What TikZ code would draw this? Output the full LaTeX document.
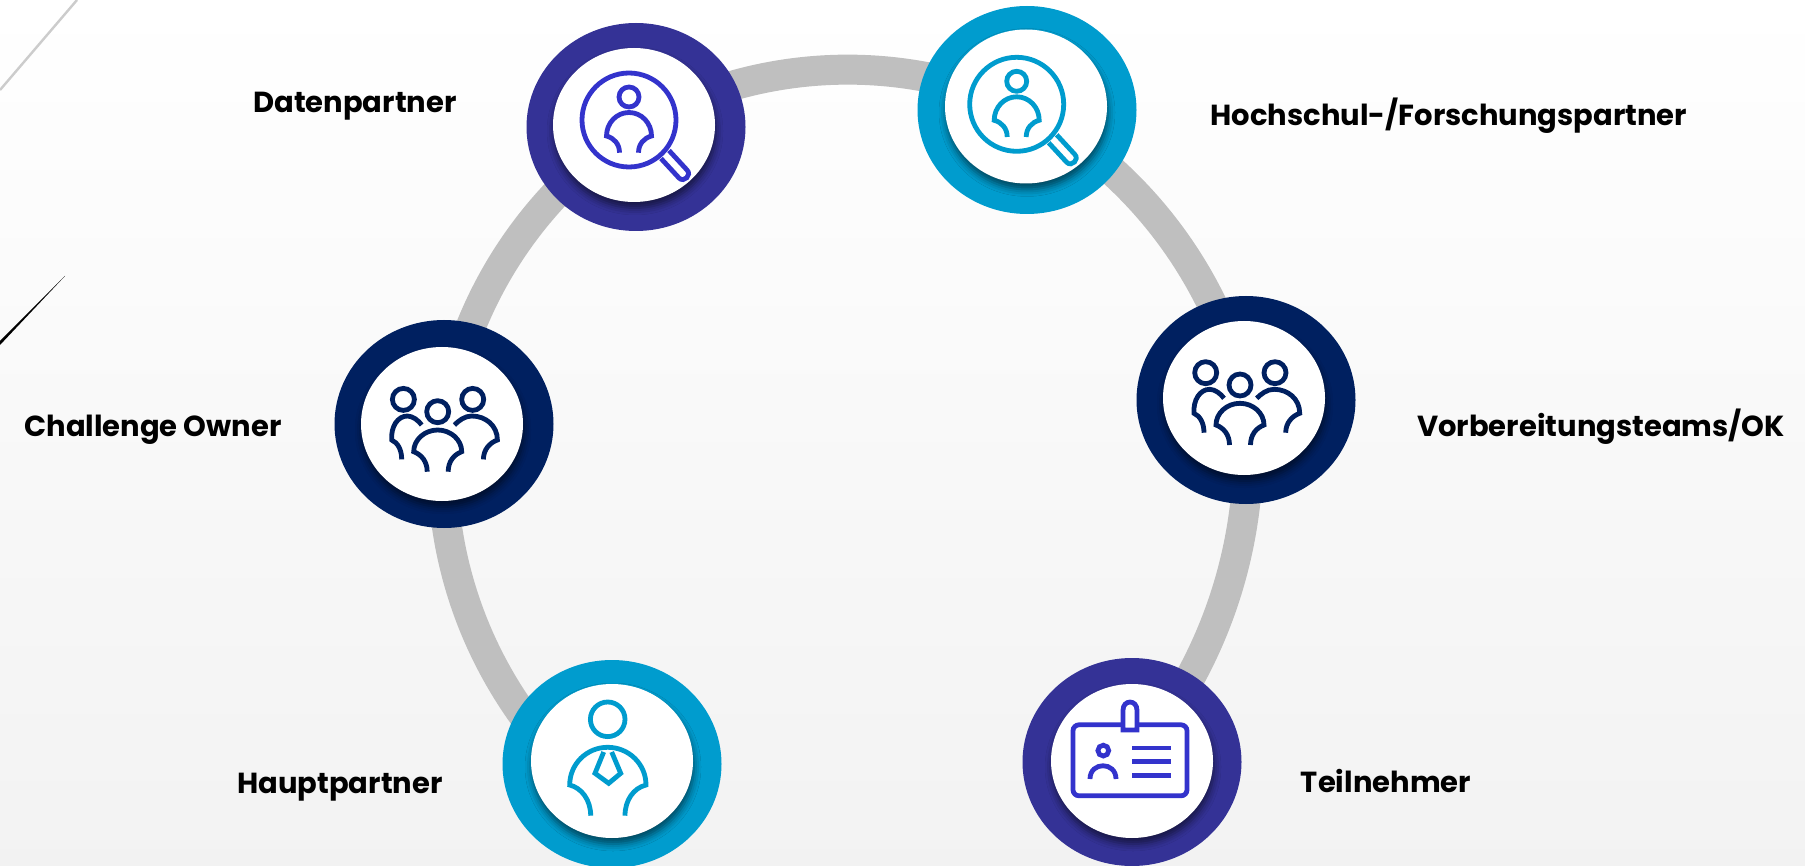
\documentclass[tikz,border=0pt]{standalone}
\usepackage{fontspec}
\setmainfont{Poppins}
\usetikzlibrary{shapes.geometric,backgrounds,shadows.blur}

\definecolor{discviolet}{HTML}{343296}
\definecolor{discnavy}{HTML}{002060}
\definecolor{discteal}{HTML}{009CCE}
\definecolor{iconviolet}{HTML}{3333CC}
\definecolor{ringgray}{HTML}{BFBFBF}

\tikzset{
    outerdisc/.style={ellipse,inner sep=0pt,minimum width=109.5pt,minimum height=104pt,fill=#1},
    innerdisc/.style={ellipse,inner sep=0pt,minimum width=81pt,minimum height=77pt,fill=white,
        blur shadow={shadow xshift=.5pt,shadow yshift=-3pt,shadow blur radius=3.5pt,shadow opacity=55}},
    rolename/.style={font=\fontsize{14.5}{16}\selectfont\bfseries,text=black,inner sep=0pt,anchor=base},
    ringline/.style={line width=15pt,color=ringgray,looseness=.9},
    iconline/.style={line width=2.4pt,line join=miter},
    % Magnifying glass over one person
    finder/.pic={
        \draw[iconline] (0,0) circle (47);
        \draw[iconline] (0,-23) circle (10);
        \draw[iconline] (-9.5,32.7) .. controls (-9.5,24) and (-15,18) .. (-22.5,16)
            .. controls (-22.5,3) and (-12.5,-7.5) .. (0,-7.5)
            .. controls (12.5,-7.5) and (22.5,3) .. (22.5,16)
            .. controls (15,18) and (9.5,24) .. (9.5,32.7);
        \draw[iconline] (32,38.5) -- (50,58) .. controls (55,63) and (63,55) .. (58,50) -- (40,30.5);
    },
    % Three people
    crew/.pic={
        \draw[iconline] (0,-40) circle (11);
        \draw[iconline] (-34.3,-52.3) circle (11);
        \draw[iconline] (35,-52.3) circle (11);
        \draw[iconline] (-10.5,20) .. controls (-10.5,10) and (-16,3) .. (-24,0)
            .. controls (-24,-12) and (-13,-21.7) .. (0,-21.7)
            .. controls (13,-21.7) and (24,-12) .. (24,0)
            .. controls (16,3) and (10.5,10) .. (10.5,20);
        \draw[iconline] (-36,7.7) .. controls (-36,-2) and (-40,-9) .. (-46,-11.7)
            .. controls (-47,-25) and (-40,-35.7) .. (-30.3,-35.7)
            .. controls (-25,-35.7) and (-19,-31) .. (-16,-26.7);
        \draw[iconline] (45.7,7.7) .. controls (45.7,-2) and (52,-9) .. (59.7,-11.7)
            .. controls (59.7,-26) and (48,-35.7) .. (34,-35.7)
            .. controls (27,-35.7) and (21,-31) .. (16.7,-26.7);
    },
    % Person with a tie
    chief/.pic={
        \draw[iconline] (0,-65.7) circle (17.3);
        \draw[iconline] (-17,30.7) .. controls (-17,15) and (-26,3) .. (-38,0)
            .. controls (-38,-21) and (-21,-37.7) .. (0,-37.7)
            .. controls (21,-37.7) and (38.3,-21) .. (38.3,0)
            .. controls (26,3) and (17.3,15) .. (17.3,30.7);
        \draw[iconline] (-4,-33) -- (-12.7,-11.7) -- (1,-1.7) -- (13,-11.7) -- (4,-33);
    },
    % Name badge
    badge/.pic={
        \draw[iconline,rounded corners=3pt] (-57,-35.5) rectangle (57,35.5);
        \draw[iconline,fill=white] (-7,-30.3) -- (-7,-50) .. controls (-7,-61) and (7,-61) .. (7,-50)
            -- (7,-30.3) -- cycle;
        \draw[iconline] (-26.7,-9.7) circle (5.4);
        \draw[iconline] (-40,18.7) .. controls (-40,1) and (-14,1) .. (-14,18.7);
        \draw[iconline] (2,-12.3) -- (41,-12.3);
        \draw[iconline] (2,1) -- (41,1);
        \draw[iconline] (2,15) -- (41,15);
    }
}

\begin{document}
\begin{tikzpicture}[x=.5pt,y=-.5pt]
    \useasboundingbox (0,0) rectangle (1805,866);

    % Discs on the ring
    \node[outerdisc=discviolet] (daten) at (636,127) {};
    \node[outerdisc=discteal] (hochschule) at (1027,110) {};
    \node[outerdisc=discnavy] (challenge) at (444,424) {};
    \node[outerdisc=discnavy] (vorbereitung) at (1246,400) {};
    \node[outerdisc=discteal] (haupt) at (612,764) {};
    \node[outerdisc=discviolet] (teilnehmer) at (1132,762) {};
    \coordinate (ringend) at (560,760);

    \node[innerdisc] (datenin) at (634,125) {};
    \node[innerdisc] (hochschulein) at (1026,106.5) {};
    \node[innerdisc] (challengein) at (442,424) {};
    \node[innerdisc] (vorbereitungin) at (1244,398) {};
    \node[innerdisc] (hauptin) at (612,761) {};
    \node[innerdisc] (teilnehmerin) at (1132,761) {};

    % Page and ring go behind the discs
    \begin{scope}[on background layer]
        \shade[top color=white,bottom color=black!5] (0,0) rectangle (1805,866);
        \draw[ringline] (ringend) to[bend left=24] (challenge.center);
        \draw[ringline] (challenge.center) to[bend left=24] (daten.center);
        \draw[ringline] (daten.center) to[bend left=28] (hochschule.center);
        \draw[ringline] (hochschule.center) to[bend left=24] (vorbereitung.center);
        \draw[ringline] (vorbereitung.center) to[bend left=23] (teilnehmer.center);
        % Lines in the corner
        \draw[line width=1.2pt,color=black!20] (0,90) -- (77,0);
        \fill[black] (0,341) -- (65,276) -- (0,345) -- cycle;
    \end{scope}

    % Icons
    \pic[color=iconviolet] at (629,120) {finder};
    \pic[color=discteal] at (1016.7,104.3) {finder};
    \pic[color=discnavy] at (437.7,451.7) {crew};
    \pic[color=discnavy] at (1240,425) {crew};
    \pic[color=discteal] at (607.7,785) {chief};
    \pic[color=iconviolet] at (1130,760.3) {badge};

    % Names
    \node[rolename] (datenname) at (355,113) {Datenpartner};
    \node[rolename] (hochschulename) at (1449,126) {Hochschul-/Forschungspartner};
    \node[rolename] (challengename) at (153,436) {Challenge Owner};
    \node[rolename] (vorbereitungname) at (1601,437) {Vorbereitungsteams/OK};
    \node[rolename] (hauptname) at (340,793) {Hauptpartner};
    \node[rolename] (teilnehmername) at (1386,792) {Teilnehmer};
\end{tikzpicture}
\end{document}
